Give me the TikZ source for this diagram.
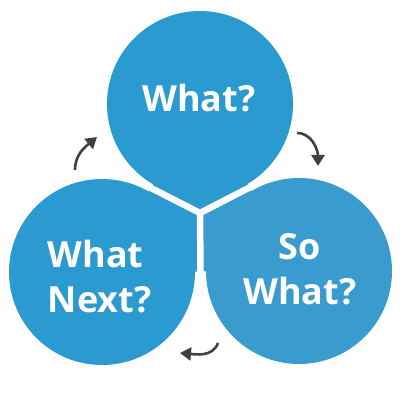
\documentclass[tikz,border=0pt]{standalone}
\usepackage{fontspec}
\setmainfont{Open Sans}
\usepackage{tikz}
\usetikzlibrary{
arrows.meta,
calc,
backgrounds
}
\definecolor{cycblue}{RGB}{43,154,208}
\definecolor{cyclight}{RGB}{58,156,206}
\definecolor{cycgray}{RGB}{64,64,64}

\begin{document}
\begin{tikzpicture}[x=1pt, y=1pt, >=Stealth,
  bubble/.style={circle, minimum size=186pt, inner sep=0pt},
  tag/.style={text=white, font=\fontsize{36}{45}\selectfont\bfseries, inner sep=0pt},
  gapline/.style={white, line width=6.5pt, line cap=round},
  turn/.style={cycgray, line width=2.6pt, -{Triangle[length=11pt, width=13pt]}}]

\useasboundingbox (0,0) rectangle (403,-403);

% Circles
\node[bubble, fill=cycblue] (what) at (200,-104) {};
\node[bubble, fill=cycblue] (next) at (102,-272) {};
\node[bubble, fill=cyclight] (sowhat) at (299,-271) {};
\coordinate (J) at (200,-213);
\coordinate (m1) at ($(what.center)!0.5!(next.center)$);
\coordinate (m2) at ($(next.center)!0.5!(sowhat.center)$);
\coordinate (m3) at ($(sowhat.center)!0.5!(what.center)$);

% Inner parts towards the middle, and the white gaps
\begin{scope}[on background layer]
\fill[cycblue] (J) -- (m1) -- (what.center) -- (m3) -- cycle;
\fill[cycblue] (J) -- (m2) -- (next.center) -- (m1) -- cycle;
\fill[cyclight] (J) -- (m3) -- (sowhat.center) -- (m2) -- cycle;
\coordinate (g1) at ($(J)!1.2!(m1)$);
\coordinate (g2) at ($(J)!1.2!(m2)$);
\coordinate (g3) at ($(J)!1.2!(m3)$);
\draw[gapline] (J) -- (g1);
\draw[gapline] (J) -- (g2);
\draw[gapline] (J) -- (g3);
\end{scope}

% Labels
\node[tag] (whatlbl) at (199,-98) {What?};
\node[tag, align=left] (nextlbl) at (99.5,-277) {What\\Next?};
\node[tag, align=center] (sowhatlbl) at (300,-269) {So\\What?};

% Arrows
\coordinate (t1s) at (75,-170);
\coordinate (t1e) at (97,-137);
\coordinate (t2s) at (297,-133);
\coordinate (t2e) at (318,-166);
\coordinate (t3s) at (218,-343);
\coordinate (t3e) at (180,-353);
\draw[turn] (t1s) to[out=90, in=220] (t1e);
\draw[turn] (t2s) to[out=0, in=90] (t2e);
\draw[turn] (t3s) to[out=-110, in=-5] (t3e);

\end{tikzpicture}
\end{document}
